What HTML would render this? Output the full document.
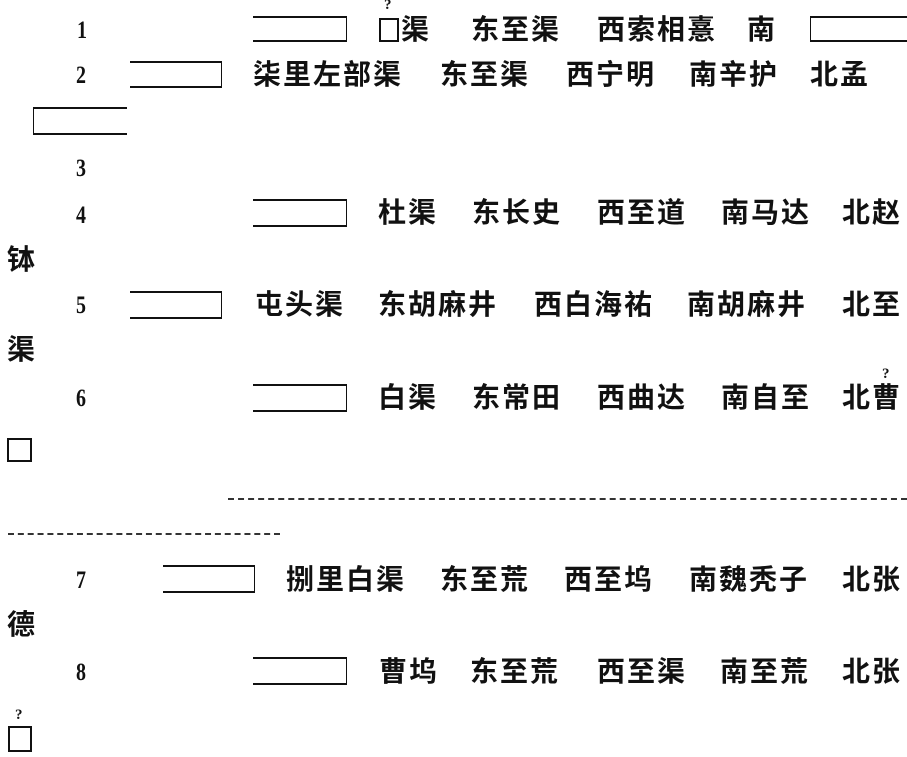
<!DOCTYPE html>
<html><head><meta charset="utf-8"><style>
html,body{margin:0;padding:0;background:#fff;}
body{width:907px;height:757px;position:relative;overflow:hidden;}
.t{position:absolute;font-family:"Liberation Sans","Noto Sans CJK SC",sans-serif;font-weight:bold;font-size:28px;line-height:28px;letter-spacing:2px;color:#111;white-space:nowrap;}
.n{position:absolute;font-family:"Liberation Serif",serif;font-weight:bold;font-size:25px;line-height:25px;color:#111;transform:scaleX(0.8);transform-origin:left top;}
.q{position:absolute;font-family:"Liberation Serif",serif;font-weight:bold;font-size:15px;line-height:15px;color:#111;}
.br{position:absolute;border-top:2px solid #111;border-bottom:2px solid #111;border-right:1px solid #111;height:24px;box-sizing:border-box;}
.bl{position:absolute;border-top:2px solid #111;border-bottom:2px solid #111;border-left:1px solid #111;height:26px;box-sizing:border-box;}
.box{position:absolute;border:2px solid #111;box-sizing:border-box;}
.dash{position:absolute;border-top:2px dashed #333;height:0;}
</style></head><body>
<!-- row 1 -->
<div class="n" style="left:77px;top:18px">1</div>
<div class="br" style="left:253px;top:16px;width:94px;height:26px"></div>
<div class="q" style="left:384px;top:-2px">?</div>
<div class="box" style="left:379px;top:18px;width:20px;height:24px"></div>
<div class="t" style="left:401px;top:16px">渠</div>
<div class="t" style="left:471px;top:16px">东至渠</div>
<div class="t" style="left:597px;top:16px">西索相憙</div>
<div class="t" style="left:747px;top:16px">南</div>
<div class="bl" style="left:810px;top:16px;width:97px"></div>
<!-- row 2 -->
<div class="n" style="left:76px;top:63px">2</div>
<div class="br" style="left:130px;top:61px;width:92px;height:27px"></div>
<div class="t" style="left:253px;top:61px">柒里左部渠</div>
<div class="t" style="left:440px;top:61px">东至渠</div>
<div class="t" style="left:566px;top:61px">西宁明</div>
<div class="t" style="left:689px;top:61px">南辛护</div>
<div class="t" style="left:810px;top:61px">北孟</div>
<div class="bl" style="left:33px;top:107px;width:94px;height:28px"></div>
<!-- row 3 -->
<div class="n" style="left:76px;top:156px">3</div>
<!-- row 4 -->
<div class="n" style="left:76px;top:203px">4</div>
<div class="br" style="left:253px;top:199px;width:94px;height:28px"></div>
<div class="t" style="left:378px;top:199px">杜渠</div>
<div class="t" style="left:472px;top:199px">东长史</div>
<div class="t" style="left:597px;top:199px">西至道</div>
<div class="t" style="left:721px;top:199px">南马达</div>
<div class="t" style="left:842px;top:199px">北赵</div>
<div class="t" style="left:7px;top:246px">钵</div>
<!-- row 5 -->
<div class="n" style="left:76px;top:293px">5</div>
<div class="br" style="left:130px;top:291px;width:92px;height:28px"></div>
<div class="t" style="left:255px;top:291px">屯头渠</div>
<div class="t" style="left:378px;top:291px">东胡麻井</div>
<div class="t" style="left:534px;top:291px">西白海祐</div>
<div class="t" style="left:687px;top:291px">南胡麻井</div>
<div class="t" style="left:842px;top:291px">北至</div>
<div class="t" style="left:7px;top:336px">渠</div>
<!-- row 6 -->
<div class="n" style="left:76px;top:386px">6</div>
<div class="br" style="left:253px;top:384px;width:94px;height:28px"></div>
<div class="t" style="left:378px;top:384px">白渠</div>
<div class="t" style="left:472px;top:384px">东常田</div>
<div class="t" style="left:597px;top:384px">西曲达</div>
<div class="t" style="left:721px;top:384px">南自至</div>
<div class="q" style="left:882px;top:367px">?</div>
<div class="t" style="left:842px;top:384px">北曹</div>
<div class="box" style="left:7px;top:438px;width:25px;height:24px"></div>
<div class="dash" style="left:228px;top:498px;width:679px"></div>
<div class="dash" style="left:8px;top:533px;width:272px"></div>
<!-- row 7 -->
<div class="n" style="left:76px;top:568px">7</div>
<div class="br" style="left:163px;top:565px;width:92px;height:28px"></div>
<div class="t" style="left:286px;top:566px">捌里白渠</div>
<div class="t" style="left:440px;top:566px">东至荒</div>
<div class="t" style="left:564px;top:566px">西至坞</div>
<div class="t" style="left:689px;top:566px">南魏秃子</div>
<div class="t" style="left:842px;top:566px">北张</div>
<div class="t" style="left:7px;top:611px">德</div>
<!-- row 8 -->
<div class="n" style="left:76px;top:660px">8</div>
<div class="br" style="left:253px;top:657px;width:94px;height:28px"></div>
<div class="t" style="left:379px;top:658px">曹坞</div>
<div class="t" style="left:470px;top:658px">东至荒</div>
<div class="t" style="left:597px;top:658px">西至渠</div>
<div class="t" style="left:720px;top:658px">南至荒</div>
<div class="t" style="left:842px;top:658px">北张</div>
<div class="q" style="left:15px;top:708px">?</div>
<div class="box" style="left:8px;top:726px;width:24px;height:26px"></div>
</body></html>
